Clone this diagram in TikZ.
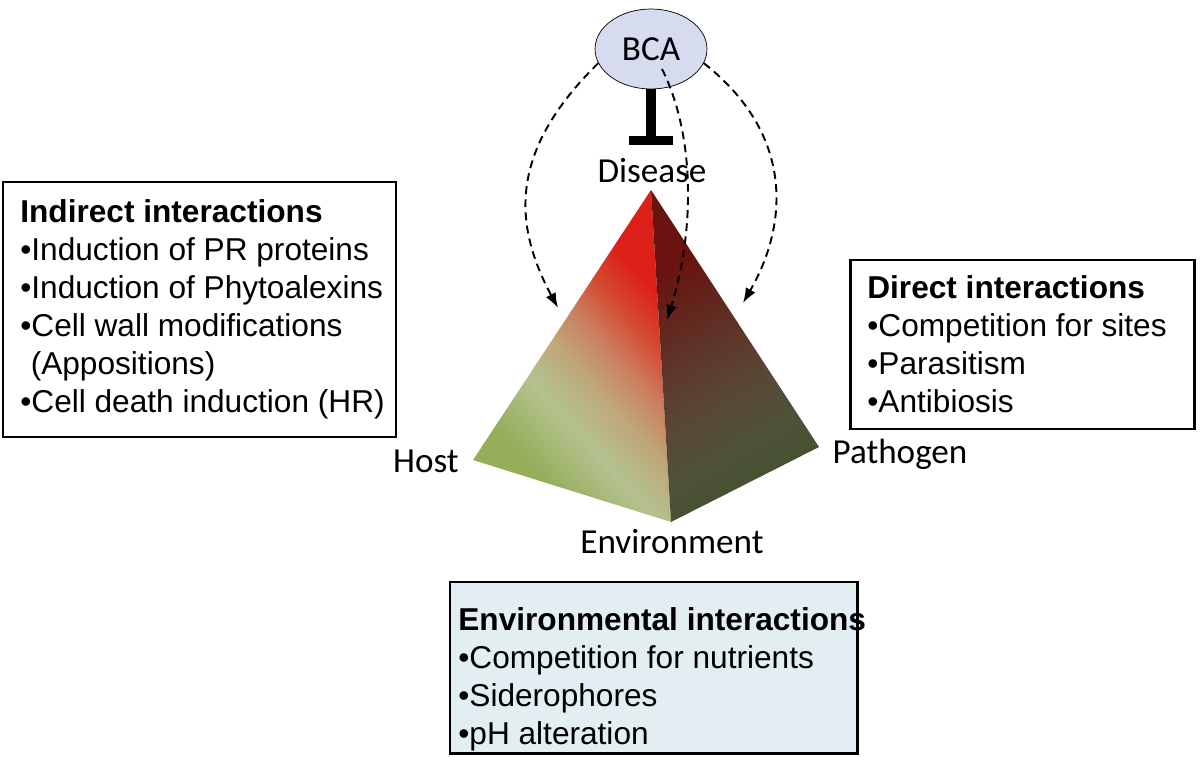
\documentclass[tikz,border=0pt]{standalone}
\usepackage{fontspec}
\setmainfont{Liberation Sans}
\newfontfamily\calibrifont{Carlito}
\usetikzlibrary{arrows,arrows.meta,shapes.geometric}
\usepackage{xcolor}

\definecolor{bcafill}{RGB}{214,219,240}
\definecolor{envfill}{RGB}{226,238,242}
\definecolor{hostG}{RGB}{150,173,90}
\definecolor{hostL}{RGB}{180,194,143}
\definecolor{hostT}{RGB}{190,168,122}
\definecolor{hostS}{RGB}{203,128,96}
\definecolor{hostO}{RGB}{212,74,50}
\definecolor{hostR}{RGB}{220,32,24}
\definecolor{pathR}{RGB}{106,18,16}
\definecolor{pathB}{RGB}{94,50,38}
\definecolor{pathM}{RGB}{90,70,54}
\definecolor{pathO}{RGB}{78,82,58}
\definecolor{pathD}{RGB}{68,80,44}

\pgfdeclarehorizontalshading{hostshade}{100bp}{color(0bp)=(hostG); color(30bp)=(hostG); color(41bp)=(hostL); color(49bp)=(hostT); color(56bp)=(hostS); color(63bp)=(hostO); color(70bp)=(hostR); color(100bp)=(hostR)}
\pgfdeclarehorizontalshading{pathshade}{100bp}{color(0bp)=(pathR); color(30bp)=(pathR); color(44bp)=(pathB); color(55bp)=(pathM); color(65bp)=(pathO); color(75bp)=(pathD); color(100bp)=(pathD)}

\begin{document}
\begin{tikzpicture}[x=0.02cm,y=-0.02cm,
	lbl/.style={font=\calibrifont\fontsize{20}{24}\selectfont,inner sep=0pt,anchor=base},
	boxtext/.style={font=\fontsize{18}{21.6}\selectfont,align=left,inner sep=0pt,anchor=north west},
	frame/.style={line width=1.7pt},
	bcaarrow/.style={-{Latex[length=0.3cm,width=0.22cm]},line width=1.1pt,dash pattern=on 4.5pt off 3pt},
	inhibit/.style={line width=5.5pt,-{Bar[width=0.88cm]}}]
	
	\useasboundingbox (0,0) rectangle (1200,757);
	
	% pyramid
	\coordinate (apex) at (651,190);
	\coordinate (hostc) at (473,460);
	\coordinate (envc) at (671,522);
	\coordinate (pathc) at (819,447);
	\shade[shading=hostshade,shading angle=42] (apex) -- (hostc) -- (envc) -- cycle;
	\shade[shading=pathshade,shading angle=-60] (apex) -- (envc) -- (pathc) -- cycle;
	
	% BCA and disease
	\node[ellipse,draw,fill=bcafill,minimum width=2.24cm,minimum height=1.6cm,inner sep=0pt,font=\calibrifont\fontsize{20}{24}\selectfont] (bca) at (651,49) {BCA};
	\node[lbl] (disease) at (652,182) {Disease};
	\draw[inhibit,shorten >=0.24cm] (bca.south) -- (bca.south |- disease.north);
	
	% corners
	\node[lbl] (host) at (426,472) {Host};
	\node[lbl] (pathogen) at (900,463) {Pathogen};
	\node[lbl] (environment) at (672,553) {Environment};
	
	% dashed arrows
	\coordinate (hostpt) at (558,308);
	\coordinate (ridgept) at (667,320);
	\coordinate (pathpt) at (743,303);
	\draw[bcaarrow] (bca.195) .. controls (510,150) and (512,222) .. (hostpt);
	\draw[bcaarrow] ([xshift=0.22cm,yshift=-0.4cm]bca.center) .. controls (695,135) and (695,230) .. (ridgept);
	\draw[bcaarrow] (bca.345) .. controls (795,135) and (788,225) .. (pathpt);
	
	% indirect
	\draw[frame] (3,182) rectangle (396,437);
	\node[boxtext] (indirect) at (20,199) {\textbf{Indirect interactions}\\•Induction of PR proteins\\•Induction of Phytoalexins\\•Cell wall modifications\\\hspace*{0.33em}(Appositions)\\•Cell death induction (HR)};
	
	% direct
	\draw[frame] (850,260) rectangle (1194,429);
	\node[boxtext] (direct) at (867,275) {\textbf{Direct interactions}\\•Competition for sites\\•Parasitism\\•Antibiosis};
	
	% environmental
	\draw[frame,fill=envfill] (450,582) rectangle (857,753);
	\node[boxtext] (environmental) at (458,607) {\textbf{Environmental interactions}\\•Competition for nutrients\\•Siderophores\\•pH alteration};
	
\end{tikzpicture}
\end{document}
